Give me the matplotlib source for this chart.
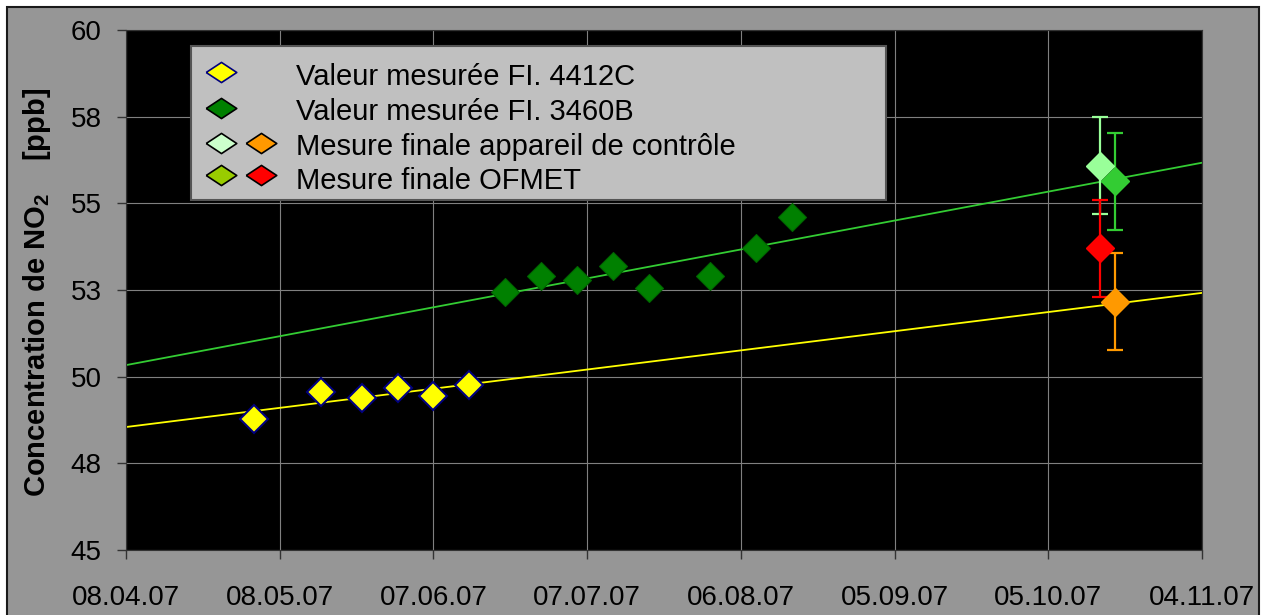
import datetime as dt
import numpy as np
import matplotlib.pyplot as plt
import matplotlib.dates as mdates
from matplotlib.patches import Rectangle

plt.rcParams['font.family'] = ['Liberation Sans', 'DejaVu Sans']
plt.rcParams['mathtext.fontset'] = 'custom'
plt.rcParams['mathtext.rm'] = 'Liberation Sans'
plt.rcParams['mathtext.bf'] = 'Liberation Sans:bold'

# Weekly readings of analyser FI. 4412C
dates_4412c = ['2007-05-03', '2007-05-16', '2007-05-24', '2007-05-31', '2007-06-07', '2007-06-14']
no2_4412c = [48.77, 49.57, 49.39, 49.68, 49.45, 49.75]

# Weekly readings of analyser FI. 3460B
dates_3460b = ['2007-06-21', '2007-06-28', '2007-07-05', '2007-07-12', '2007-07-19',
               '2007-07-31', '2007-08-09', '2007-08-16']
no2_3460b = [52.45, 52.90, 52.79, 53.19, 52.57, 52.90, 53.70, 54.60]

# Final measurements with their uncertainty
final_dates = ['2007-10-15', '2007-10-18', '2007-10-15', '2007-10-18']
final_no2 = [56.08, 55.64, 53.70, 52.16]
final_err = [1.4, 1.4, 1.4, 1.4]

x_ticks = ['2007-04-08', '2007-05-08', '2007-06-07', '2007-07-07', '2007-08-06',
           '2007-09-05', '2007-10-05', '2007-11-04']
y_ticks = [45, 47.5, 50, 52.5, 55, 57.5, 60]
y_tick_labels = ['45', '48', '50', '53', '55', '58', '60']

legend_labels = ['Valeur mesurée FI. 4412C', 'Valeur mesurée FI. 3460B',
                 'Mesure finale appareil de contrôle', 'Mesure finale OFMET']

final_colors = ['#99FF99', '#33CC33', '#FF0000', '#FF9900']


def to_dates(lst):
    return [dt.datetime.strptime(s, '%Y-%m-%d') for s in lst]


fig = plt.figure(figsize=(12.75, 6.15), dpi=100, facecolor='white')
fig.add_artist(Rectangle((7 / 1275, -0.05), 1252 / 1275, 1.05 - 7 / 615,
                         transform=fig.transFigure, facecolor='#969696',
                         edgecolor='#1a1a1a', lw=1.5, zorder=-5))

ax = fig.add_axes([126 / 1275, 65 / 615, 1076 / 1275, 520 / 615])
ax.set_facecolor('black')

xt = to_dates(x_ticks)
ax.set_xlim(xt[0], xt[-1])
ax.set_ylim(45, 60)

# linear trend lines over the whole period
xlim = np.array(ax.get_xlim())
for dates, vals, col in [(dates_3460b, no2_3460b, '#33CC33'),
                         (dates_4412c, no2_4412c, '#FFFF00')]:
    k, b = np.polyfit(mdates.date2num(to_dates(dates)), vals, 1)
    ax.plot(xlim, k * xlim + b, color=col, lw=1.3, zorder=2)

ms = 14
ax.plot(to_dates(dates_4412c), no2_4412c, linestyle='none', marker='D', ms=ms,
        mfc='#FFFF00', mec='#000080', mew=1.5, zorder=4)
ax.plot(to_dates(dates_3460b), no2_3460b, linestyle='none', marker='D', ms=ms,
        mfc='#008000', mec='#006600', mew=0.8, zorder=4)

for d, v, e, c in zip(to_dates(final_dates), final_no2, final_err, final_colors):
    ax.errorbar(d, v, yerr=e, fmt='D', ms=ms, mfc=c, mec=c, ecolor=c,
                elinewidth=1.6, capsize=5.5, capthick=1.6, zorder=4)

ax.set_xticks(xt)
ax.xaxis.set_major_formatter(mdates.DateFormatter('%d.%m.%y'))
ax.set_yticks(y_ticks)
ax.set_yticklabels(y_tick_labels)
ax.grid(True, color='#808080', lw=0.8)
ax.set_axisbelow(True)
ax.tick_params(direction='out', length=6.5, width=1, color='#333333', labelsize=20)
ax.tick_params(axis='y', pad=11)
ax.tick_params(axis='x', pad=19)
for s in ax.spines.values():
    s.set_color('#333333')

fig.text(37.5 / 1275, 1 - 292.5 / 615, r'Concentration de NO$_\mathbf{2}$    [ppb]',
         rotation=90, ha='center', va='center', fontsize=21, fontweight='bold')

# legend box drawn by hand
ax.add_patch(Rectangle((0.0601, 0.6731), 0.6462, 0.2967, transform=ax.transAxes,
                       facecolor='#C0C0C0', edgecolor='#555555', lw=1.5, zorder=6))
wide_diamond = [(-1, 0), (0, 0.66), (1, 0), (0, -0.66), (-1, 0)]
rows_marker_y = [71.7, 108.3, 142.7, 175]
rows_text_y = [76.7, 111.7, 146.7, 180.7]
legend_markers = [[('#FFFF00', '#000080')], [('#008000', '#000000')],
                  [('#CCFFCC', '#000000'), ('#FF9900', '#000000')],
                  [('#99CC00', '#000000'), ('#FF0000', '#000000')]]
for label, my, ty, marks in zip(legend_labels, rows_marker_y, rows_text_y, legend_markers):
    for i, (fc, ec) in enumerate(marks):
        ax.plot((221 + 40 * i - 126) / 1076, (550 - my) / 520, marker=wide_diamond,
                ms=22, mfc=fc, mec=ec, mew=1.2, transform=ax.transAxes, zorder=7,
                clip_on=False)
    ax.text((296 - 126) / 1076, (550 - ty) / 520, label, transform=ax.transAxes,
            fontsize=21, va='center', ha='left', zorder=7)

fig.savefig('out.png', dpi=100, facecolor='white')
